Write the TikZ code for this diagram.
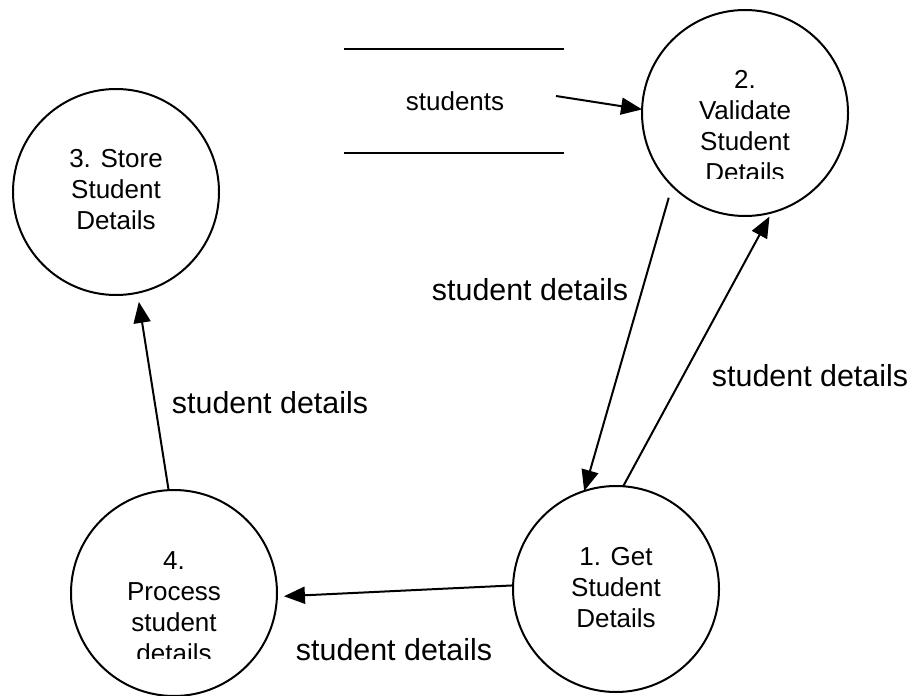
\documentclass[tikz,border=0pt]{standalone}
\usepackage{fontspec}
\setmainfont{Liberation Sans}
\usetikzlibrary{arrows.meta,positioning,calc}

\begin{document}
\begin{tikzpicture}[x=0.5pt,y=-0.5pt,
bubble/.style={
% The shape:
circle,
% The size:
minimum size=103pt, inner sep=0pt, outer sep=0pt,
% The border:
line width=1pt, draw=black
},
bubbletext/.style={
% Text inside a bubble
align=center, inner sep=0pt,
font=\fontsize{13}{15.5}\selectfont
},
flowlabel/.style={
% Text beside a flow
inner sep=0pt, font=\fontsize{15.2}{18}\selectfont
},
flow/.style={
line width=1pt, -{Triangle[length=10.5pt,width=8.5pt]}
}]
\useasboundingbox (0,0) rectangle (913,695);

\node (g) [bubble] at (616,589) {};
\node (v) [bubble] at (745,113) {};
\node (s) [bubble] at (116,192) {};
\node (pr) [bubble] at (174,593) {};

\node (gt) [bubbletext] at (616,588) {1. Get\\Student\\Details};
\node (st) [bubbletext] at (116,190) {3. Store\\Student\\Details};
\begin{scope}
\clip (640,0) rectangle (850,178);
\node (vt) [bubbletext] at (745,126) {2.\\Validate\\Student\\Details};
\end{scope}
\begin{scope}
\clip (60,480) rectangle (290,658);
\node (prt) [bubbletext] at (174,607) {4.\\Process\\student\\details};
\end{scope}

% data store
\draw[line width=1pt] (344,49) -- (564,49);
\draw[line width=1pt] (344,153) -- (564,153);
\node (d) [bubbletext] at (455,101) {students};
\coordinate (din) at (556,96);

\node (l1) [flowlabel] at (530,290) {student details};
\node (l2) [flowlabel] at (810,376) {student details};
\node (l3) [flowlabel] at (394,650) {student details};
\node (l4) [flowlabel] at (270,403) {student details};

\path (din) edge[flow] (v.178.3);
\path (v.225.2) edge[flow, shorten <=6.2pt] (g.108.1);
\path (g.86.7) edge[flow, shorten >=2.3pt] (v.-75.9);
\path (g.178.3) edge[flow, shorten >=3.5pt] (pr.-2.8);
\path (pr.93.9) edge[flow, shorten >=4.6pt] (s.-78.5);
\end{tikzpicture}
\end{document}
